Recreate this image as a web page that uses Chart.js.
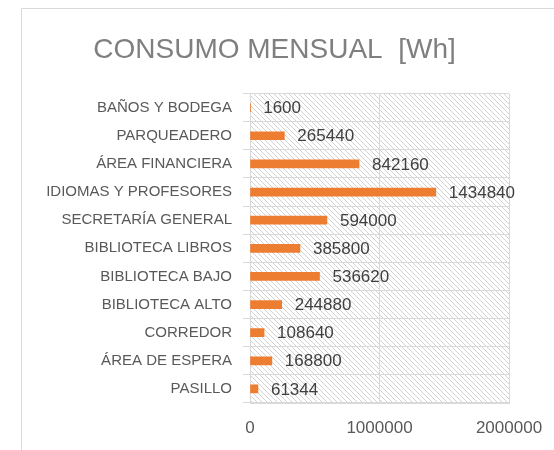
<!DOCTYPE html>
<html>
<head>
<meta charset="utf-8">
<script src="https://cdn.jsdelivr.net/npm/chart.js@4/dist/chart.umd.min.js"></script>
<style>
  html, body { margin: 0; padding: 0; background: #fff; }
  #wrap { width: 554px; height: 450px; }
</style>
</head>
<body>
<div id="wrap"><canvas id="chartConsumo"></canvas></div>
<script>
const CATEGORIES = [
  'BAÑOS Y BODEGA',
  'PARQUEADERO',
  'ÁREA FINANCIERA',
  'IDIOMAS Y PROFESORES',
  'SECRETARÍA GENERAL',
  'BIBLIOTECA LIBROS',
  'BIBLIOTECA BAJO',
  'BIBLIOTECA ALTO',
  'CORREDOR',
  'ÁREA DE ESPERA',
  'PASILLO',
];
const CONSUMO_WH = [1600, 265440, 842160, 1434840, 594000, 385800, 536620, 244880, 108640, 168800, 61344];
const X_TICKS = [0, 1000000, 2000000];

const GRID = '#d9d9d9';
const BAR = '#ed7d31';
const FONT = '"Liberation Sans", Arial, sans-serif';

function hatchPattern(ctx) {
  const s = 5;
  const tile = document.createElement('canvas');
  tile.width = s;
  tile.height = s;
  const t = tile.getContext('2d');
  t.fillStyle = '#fff';
  t.fillRect(0, 0, s, s);
  t.strokeStyle = '#d2d2d2';
  t.lineWidth = 1;
  t.beginPath();
  t.moveTo(0, 0); t.lineTo(s, s);
  t.moveTo(-1, s - 1); t.lineTo(1, s + 1);
  t.moveTo(s - 1, -1); t.lineTo(s + 1, 1);
  t.stroke();
  return ctx.createPattern(tile, 'repeat');
}

// marco exterior + fondo rayado del área de trazado
const backdrop = {
  id: 'backdrop',
  beforeDraw(chart) {
    const { ctx, chartArea: a } = chart;
    ctx.save();
    ctx.strokeStyle = GRID;
    ctx.lineWidth = 1;
    ctx.beginPath();
    ctx.moveTo(21.5, chart.height);
    ctx.lineTo(21.5, 8.5);
    ctx.lineTo(chart.width, 8.5);
    ctx.stroke();
    ctx.fillStyle = hatchPattern(ctx);
    ctx.fillRect(a.left, a.top, a.right - a.left, a.bottom - a.top);
    ctx.restore();
  },
};

const valueLabels = {
  id: 'valueLabels',
  afterDatasetsDraw(chart) {
    const { ctx } = chart;
    const meta = chart.getDatasetMeta(0);
    ctx.save();
    ctx.font = `17px ${FONT}`;
    ctx.fillStyle = '#404040';
    ctx.textBaseline = 'middle';
    ctx.textAlign = 'left';
    meta.data.forEach((bar, i) => {
      ctx.fillText(String(CONSUMO_WH[i]), bar.x + 13, bar.y + 1);
    });
    ctx.restore();
  },
};

new Chart(document.getElementById('chartConsumo').getContext('2d'), {
  type: 'bar',
  data: {
    labels: CATEGORIES,
    datasets: [{
      label: 'Consumo mensual [Wh]',
      data: CONSUMO_WH,
      backgroundColor: BAR,
      barThickness: 8,
    }],
  },
  options: {
    indexAxis: 'y',
    responsive: true,
    maintainAspectRatio: false,
    animation: false,
    layout: { padding: { left: 40, right: 45, top: 0, bottom: 0 } },
    scales: {
      x: {
        min: 0,
        max: 2000000,
        afterBuildTicks(scale) {
          scale.ticks = X_TICKS.map((v) => ({ value: v }));
        },
        afterFit(scale) {
          scale.height = 47;
          scale.paddingLeft = 0;
          scale.paddingRight = 0;
        },
        grid: { color: GRID, drawTicks: false },
        border: { display: true, color: GRID },
        ticks: {
          padding: 15,
          color: '#595959',
          font: { family: FONT, size: 17 },
          maxRotation: 0,
          callback: (value) => String(value),
        },
      },
      y: {
        afterFit(scale) { scale.width = 210; },
        grid: { color: GRID, offset: true, tickLength: 7 },
        border: { display: true, color: GRID },
        ticks: {
          padding: 11,
          color: '#595959',
          font: { family: FONT, size: 15 },
        },
      },
    },
    plugins: {
      legend: { display: false },
      tooltip: { enabled: false },
      title: {
        display: true,
        text: 'CONSUMO MENSUAL  [Wh]',
        color: '#7f7f7f',
        font: { family: FONT, size: 28, weight: 'normal', lineHeight: 1.2 },
        padding: { top: 33, bottom: 27 },
      },
    },
  },
  plugins: [backdrop, valueLabels],
});
</script>
</body>
</html>
